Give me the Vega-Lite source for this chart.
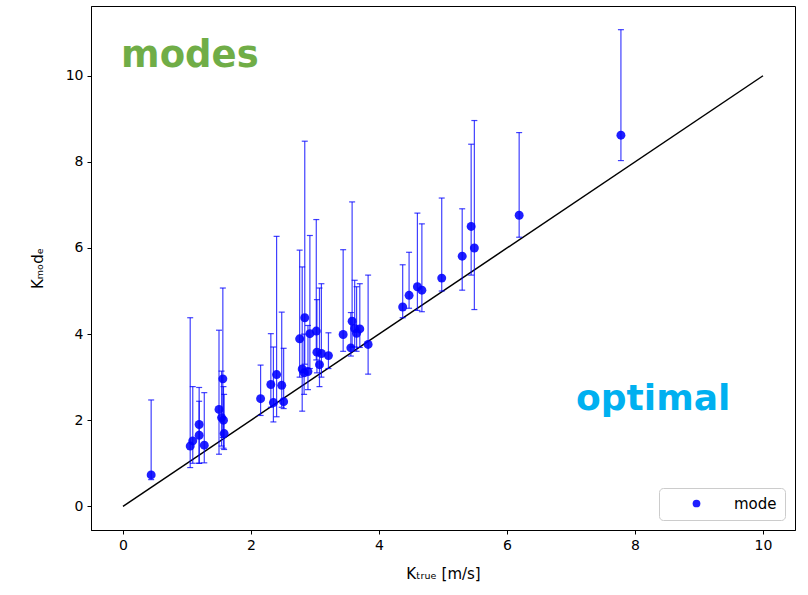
{
  "$schema": "https://vega.github.io/schema/vega-lite/v6.json",
  "width": 704,
  "height": 524,
  "autosize": "none",
  "padding": {"left": 91, "top": 6, "right": 13, "bottom": 65},
  "background": "white",
  "config": {
    "font": "DejaVu Sans",
    "view": {"stroke": "black", "strokeWidth": 1},
    "axis": {
      "grid": false,
      "domainColor": "black",
      "tickColor": "black",
      "tickSize": 4,
      "labelColor": "black",
      "labelFontSize": 14,
      "labelPadding": 4,
      "titleColor": "black",
      "titleFontSize": 15,
      "titleFontWeight": "normal",
      "labelFont": "DejaVu Sans",
      "titleFont": "DejaVu Sans"
    }
  },
  "datasets": {
    "diag": [{"x": 0, "y": 0}, {"x": 10, "y": 10}],
    "one": [{"k": 1}],
    "pts": [
      {"x": 0.44, "y": 0.73, "lo": 0.62, "hi": 2.47, "series": "mode"},
      {"x": 1.05, "y": 1.40, "lo": 0.90, "hi": 4.38, "series": "mode"},
      {"x": 1.09, "y": 1.52, "lo": 1.00, "hi": 2.78, "series": "mode"},
      {"x": 1.19, "y": 1.90, "lo": 1.00, "hi": 2.44, "series": "mode"},
      {"x": 1.19, "y": 1.65, "lo": 1.00, "hi": 2.76, "series": "mode"},
      {"x": 1.27, "y": 1.42, "lo": 1.01, "hi": 2.64, "series": "mode"},
      {"x": 1.50, "y": 2.25, "lo": 1.21, "hi": 4.09, "series": "mode"},
      {"x": 1.56, "y": 2.96, "lo": 1.60, "hi": 5.07, "series": "mode"},
      {"x": 1.54, "y": 2.06, "lo": 1.40, "hi": 3.14, "series": "mode"},
      {"x": 1.57, "y": 2.00, "lo": 1.35, "hi": 2.78, "series": "mode"},
      {"x": 1.58, "y": 1.69, "lo": 1.32, "hi": 2.60, "series": "mode"},
      {"x": 2.15, "y": 2.50, "lo": 2.11, "hi": 3.28, "series": "mode"},
      {"x": 2.31, "y": 2.83, "lo": 2.30, "hi": 4.01, "series": "mode"},
      {"x": 2.35, "y": 2.41, "lo": 1.96, "hi": 3.70, "series": "mode"},
      {"x": 2.40, "y": 3.06, "lo": 2.08, "hi": 6.27, "series": "mode"},
      {"x": 2.48, "y": 2.81, "lo": 2.30, "hi": 4.51, "series": "mode"},
      {"x": 2.51, "y": 2.43, "lo": 2.27, "hi": 3.67, "series": "mode"},
      {"x": 2.76, "y": 3.89, "lo": 3.00, "hi": 5.95, "series": "mode"},
      {"x": 2.84, "y": 4.38, "lo": 3.30, "hi": 8.48, "series": "mode"},
      {"x": 2.80, "y": 3.19, "lo": 2.21, "hi": 5.56, "series": "mode"},
      {"x": 2.83, "y": 3.10, "lo": 2.60, "hi": 4.00, "series": "mode"},
      {"x": 2.89, "y": 3.13, "lo": 2.71, "hi": 4.20, "series": "mode"},
      {"x": 2.92, "y": 4.01, "lo": 3.20, "hi": 6.29, "series": "mode"},
      {"x": 3.02, "y": 4.07, "lo": 3.40, "hi": 6.66, "series": "mode"},
      {"x": 3.03, "y": 3.58, "lo": 3.10, "hi": 4.80, "series": "mode"},
      {"x": 3.07, "y": 3.29, "lo": 2.78, "hi": 5.07, "series": "mode"},
      {"x": 3.10, "y": 3.55, "lo": 3.00, "hi": 5.17, "series": "mode"},
      {"x": 3.21, "y": 3.50, "lo": 3.20, "hi": 4.03, "series": "mode"},
      {"x": 3.44, "y": 3.99, "lo": 3.60, "hi": 5.96, "series": "mode"},
      {"x": 3.58, "y": 4.30, "lo": 3.70, "hi": 7.07, "series": "mode"},
      {"x": 3.56, "y": 3.68, "lo": 3.49, "hi": 4.50, "series": "mode"},
      {"x": 3.62, "y": 4.13, "lo": 3.70, "hi": 5.25, "series": "mode"},
      {"x": 3.65, "y": 4.02, "lo": 3.60, "hi": 5.10, "series": "mode"},
      {"x": 3.70, "y": 4.12, "lo": 3.69, "hi": 5.17, "series": "mode"},
      {"x": 3.83, "y": 3.76, "lo": 3.07, "hi": 5.37, "series": "mode"},
      {"x": 4.37, "y": 4.63, "lo": 4.38, "hi": 5.61, "series": "mode"},
      {"x": 4.47, "y": 4.90, "lo": 4.60, "hi": 5.90, "series": "mode"},
      {"x": 4.60, "y": 5.10, "lo": 4.55, "hi": 6.81, "series": "mode"},
      {"x": 4.67, "y": 5.02, "lo": 4.52, "hi": 6.56, "series": "mode"},
      {"x": 4.98, "y": 5.30, "lo": 5.00, "hi": 7.16, "series": "mode"},
      {"x": 5.30, "y": 5.81, "lo": 5.02, "hi": 6.91, "series": "mode"},
      {"x": 5.44, "y": 6.50, "lo": 5.37, "hi": 8.41, "series": "mode"},
      {"x": 5.49, "y": 6.00, "lo": 4.57, "hi": 8.96, "series": "mode"},
      {"x": 6.19, "y": 6.76, "lo": 6.25, "hi": 8.68, "series": "mode"},
      {"x": 7.78, "y": 8.62, "lo": 8.03, "hi": 11.07, "series": "mode"}
    ]
  },
  "layer": [
    {
      "data": {"name": "diag"},
      "mark": {"type": "line", "color": "black", "strokeWidth": 1.5},
      "encoding": {
        "x": {"field": "x", "type": "quantitative", "scale": {"domain": [-0.5, 10.5], "nice": false, "zero": false},
              "axis": {"values": [0, 2, 4, 6, 8, 10], "format": "d", "title": "Kₜᵣᵤₑ [m/s]", "titlePadding": 14}},
        "y": {"field": "y", "type": "quantitative", "scale": {"domain": [-0.55, 11.62], "nice": false, "zero": false},
              "axis": {"values": [0, 2, 4, 6, 8, 10], "format": "d", "title": "Kₘₒdₑ", "titlePadding": 20}}
      }
    },
    {
      "data": {"name": "pts"},
      "mark": {"type": "rule", "color": "#0000ff", "opacity": 0.75, "strokeWidth": 1.2},
      "encoding": {
        "x": {"field": "x", "type": "quantitative"},
        "y": {"field": "lo", "type": "quantitative"},
        "y2": {"field": "hi"}
      }
    },
    {
      "data": {"name": "pts"},
      "mark": {"type": "tick", "orient": "horizontal", "color": "#0000ff", "opacity": 0.75, "size": 6, "thickness": 1.2},
      "encoding": {
        "x": {"field": "x", "type": "quantitative"},
        "y": {"field": "lo", "type": "quantitative"}
      }
    },
    {
      "data": {"name": "pts"},
      "mark": {"type": "tick", "orient": "horizontal", "color": "#0000ff", "opacity": 0.75, "size": 6, "thickness": 1.2},
      "encoding": {
        "x": {"field": "x", "type": "quantitative"},
        "y": {"field": "hi", "type": "quantitative"}
      }
    },
    {
      "data": {"name": "pts"},
      "mark": {"type": "point", "filled": true, "opacity": 0.88, "size": 80},
      "encoding": {
        "x": {"field": "x", "type": "quantitative"},
        "y": {"field": "y", "type": "quantitative"},
        "color": {"field": "series", "type": "nominal", "scale": {"range": ["#0000ff"]},
                  "legend": {"title": null, "orient": "bottom-right", "offset": 10, "padding": 8,
                             "strokeColor": "#cccccc", "fillColor": "white", "cornerRadius": 4,
                             "labelFontSize": 15, "labelColor": "black", "labelFont": "DejaVu Sans",
                             "symbolSize": 60, "symbolOpacity": 0.88, "symbolOffset": 22, "labelOffset": 30, "rowPadding": 0}}
      }
    },
    {
      "data": {"name": "one"},
      "mark": {"type": "text", "text": "modes", "font": "DejaVu Sans", "fontWeight": "bold", "fontSize": 37,
               "color": "#70ad47", "align": "left", "baseline": "alphabetic"},
      "encoding": {"x": {"datum": -0.03, "type": "quantitative"}, "y": {"datum": 10.2, "type": "quantitative"}}
    },
    {
      "data": {"name": "one"},
      "mark": {"type": "text", "text": "optimal", "font": "DejaVu Sans", "fontWeight": "bold", "fontSize": 36,
               "color": "#00b0f0", "align": "left", "baseline": "alphabetic"},
      "encoding": {"x": {"datum": 7.08, "type": "quantitative"}, "y": {"datum": 2.24, "type": "quantitative"}}
    }
  ]
}
